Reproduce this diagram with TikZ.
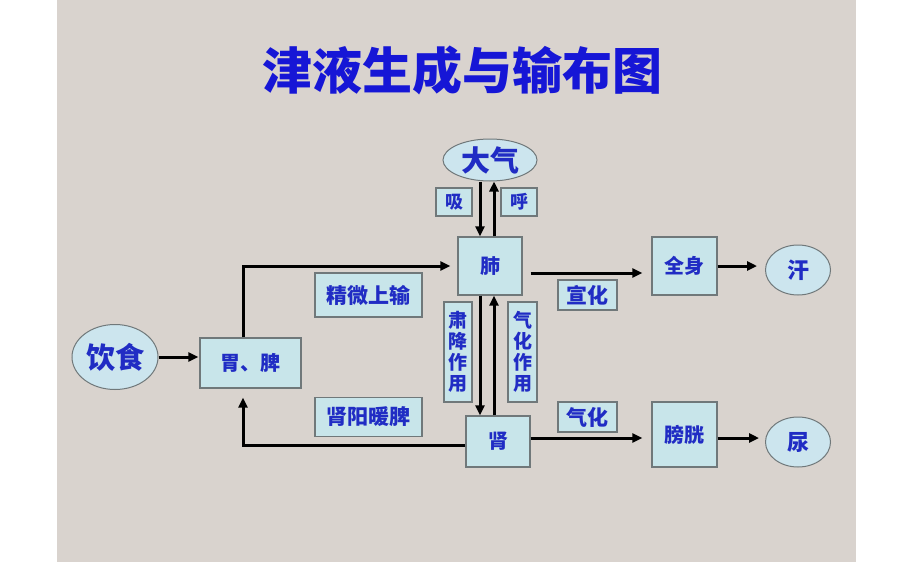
\documentclass[tikz,border=0pt]{standalone}
\usepackage{fontspec}
\newfontfamily\cjk{Noto Sans CJK SC}
\usepackage{tikz}
\usetikzlibrary{arrows.meta,shapes.geometric,calc}
\definecolor{bggrey}{RGB}{217,211,206}
\definecolor{boxfill}{RGB}{200,229,234}
\definecolor{ovalfill}{RGB}{204,229,238}
\definecolor{boxline}{RGB}{112,120,122}
\definecolor{txtblue}{RGB}{32,44,196}
\definecolor{ttlblue}{RGB}{22,22,214}

\begin{document}
\begin{tikzpicture}[x=1pt,y=-1pt,
  box/.style={draw=boxline,line width=1.2pt,rectangle,fill=boxfill,inner sep=0pt,
    text=txtblue,font=\cjk\bfseries\fontsize{20}{22}\selectfont},
  tag/.style={box,font=\cjk\bfseries\fontsize{21}{23}\selectfont},
  vtag/.style={box,align=center,font=\cjk\bfseries\fontsize{19}{21}\selectfont},
  oval/.style={draw=boxline,line width=1pt,ellipse,fill=ovalfill,inner sep=0pt,
    text=txtblue,font=\cjk\bfseries\fontsize{22}{24}\selectfont},
  arr/.style={-{Triangle[length=10pt,width=9pt]},line width=3pt}]
\fill[white] (0,0) rectangle (918,562);
\fill[bggrey] (57,0) rectangle (856,562);

\node[text=ttlblue,font=\cjk\bfseries\fontsize{50}{54}\selectfont] (title) at (462,70) {津液生成与输布图};

\node[oval,minimum width=94pt,minimum height=42pt,font=\cjk\bfseries\fontsize{29}{31}\selectfont] (daqi) at (490,160) {大气};
\node[box,minimum width=36pt,minimum height=28pt,font=\cjk\bfseries\fontsize{18}{20}\selectfont] (xi) at (454,202) {吸};
\node[box,minimum width=36pt,minimum height=28pt,font=\cjk\bfseries\fontsize{18}{20}\selectfont] (hu) at (519,202) {呼};
\node[box,minimum width=64pt,minimum height=58pt] (fei) at (490,266) {肺};
\node[vtag,minimum width=28pt,minimum height=100pt] (sujiang) at (458,352) {肃\\降\\作\\用};
\node[vtag,minimum width=29pt,minimum height=100pt] (qihua) at (522.5,352) {气\\化\\作\\用};
\node[box,minimum width=64pt,minimum height=51pt] (shen) at (498,441.5) {肾};

\node[oval,minimum width=86pt,minimum height=65pt,font=\cjk\bfseries\fontsize{29}{31}\selectfont] (yinshi) at (115,357) {饮食};
\node[box,minimum width=101pt,minimum height=50pt] (weipi) at (250.5,363) {胃、脾};
\node[tag,minimum width=107pt,minimum height=44pt] (jingwei) at (368.5,295) {精微上输};
\node[tag,minimum width=107pt,minimum height=39pt] (nuanpi) at (368.5,417) {肾阳暖脾};

\node[tag,minimum width=59pt,minimum height=30pt] (xuanhua) at (587.5,295) {宣化};
\node[box,minimum width=65pt,minimum height=58pt] (quanshen) at (684.5,266) {全身};
\node[oval,minimum width=65pt,minimum height=50pt] (han) at (798,270) {汗};
\node[tag,minimum width=59pt,minimum height=30pt] (qihuab) at (587.5,417) {气化};
\node[box,minimum width=65pt,minimum height=65pt] (pangguang) at (684.5,434.5) {膀胱};
\node[oval,minimum width=65pt,minimum height=50pt] (niao) at (798,442) {尿};

\draw[arr] ([xshift=-10pt]daqi.south) -- ([xshift=-10pt]fei.north);
\draw[arr] ([xshift=4pt]fei.north) -- ([xshift=4pt]daqi.south);
\draw[arr] ([xshift=-10pt]fei.south) -- ([xshift=-10pt]fei.south |- shen.north);
\draw[arr] ([xshift=4pt]fei.south |- shen.north) -- ([xshift=4pt]fei.south);
\draw[arr,shorten >=1pt] (yinshi.east) -- (yinshi.east -| weipi.west);
\draw[arr,shorten >=7pt] ([xshift=-7.5pt]weipi.north) |- (fei.west);
\draw[arr,shorten >=9pt] ([yshift=-3.5pt]shen.west) -| ([xshift=-7.5pt]weipi.south);
\draw[arr,shorten <=8pt,shorten >=9pt] ([yshift=-7pt]fei.east) -- ([yshift=-7pt]fei.east -| quanshen.west);
\draw[arr,shorten >=8pt] (quanshen.east) -- (quanshen.east -| han.west);
\draw[arr,shorten >=9pt] ([yshift=3.5pt]shen.east) -- ([yshift=3.5pt]shen.east -| pangguang.west);
\draw[arr,shorten >=6pt] ([yshift=-3.5pt]pangguang.east) -- ([yshift=-3.5pt]pangguang.east -| niao.west);
\end{tikzpicture}
\end{document}
